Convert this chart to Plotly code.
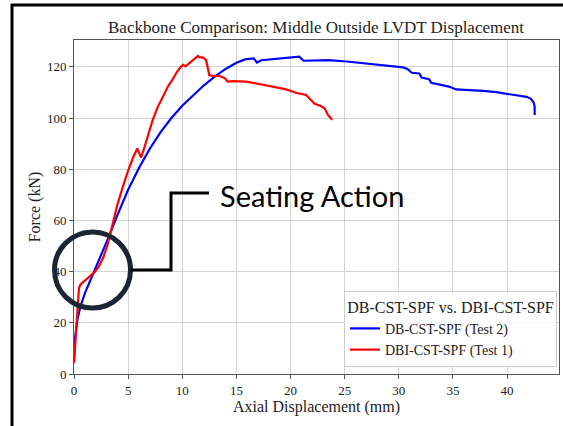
import plotly.graph_objects as go

# DB-CST-SPF (Test 2) backbone: axial displacement (mm) vs force (kN)
db_disp = [0.0, 0.1, 0.3, 0.6, 1.0, 1.5, 2.0, 2.6, 3.2, 4.0, 5.0, 6.0, 7.0, 8.0, 9.0,
           10.0, 11.0, 12.0, 13.0, 14.0, 15.0, 15.8, 16.6, 16.9, 17.3, 18.7,
           19.9, 20.8, 21.2, 22.7, 23.5, 25.2, 26.4, 28.0, 29.5, 30.4, 30.8, 31.2,
           31.9, 32.1, 32.8, 33.0, 34.0, 34.7, 35.3, 36.5, 37.8, 39.0, 40.3, 41.2,
           41.8, 42.2, 42.45, 42.55, 42.55]
db_force = [5.0, 14.0, 21.0, 26.5, 31.5, 36.5, 41.0, 47.0, 53.5, 62.0, 72.0, 80.5, 88.0,
            94.5, 100.0, 104.8, 109.0, 112.8, 116.2, 119.2, 121.6, 122.9, 123.3,
            121.7, 122.6, 123.2, 123.9, 124.0, 122.4, 122.4, 122.6, 122.1, 121.6,
            121.0, 120.3, 119.8, 119.2, 117.7, 117.4, 115.8, 115.2, 113.8, 112.9,
            112.2, 111.2, 111.0, 110.6, 110.1, 109.4, 108.9, 108.3, 107.5, 106.2,
            104.5, 101.2]

# DBI-CST-SPF (Test 1) backbone
dbi_disp = [0.0, 0.15, 0.3, 0.46, 0.6, 1.0, 1.5, 1.9, 2.3, 2.7, 3.1, 3.5, 4.0, 4.5,
            5.0, 5.5, 5.85, 6.05, 6.2, 6.5, 6.8, 7.25, 7.7, 8.2, 8.7, 9.1, 9.5, 9.9,
            10.1, 10.3, 10.8, 11.3, 11.45, 11.6, 11.9, 12.2, 12.35, 12.5, 12.8, 13.4,
            13.9, 14.2, 14.7, 15.9, 17.1, 18.4, 19.6, 20.5, 21.45, 21.9, 22.2, 22.8,
            23.15, 23.45, 23.75, 23.85]
dbi_force = [4.3, 15.0, 27.0, 33.5, 35.0, 36.5, 38.5, 39.8, 42.0, 45.5, 50.5, 57.5,
             66.0, 73.0, 79.5, 85.0, 88.1, 86.0, 84.6, 88.5, 93.0, 99.0, 104.0, 108.5,
             112.5, 115.0, 118.0, 120.2, 120.8, 120.2, 122.0, 124.0, 124.3, 123.7,
             123.7, 122.7, 120.0, 116.8, 116.5, 116.5, 115.7, 114.2, 114.4, 114.2,
             113.3, 112.2, 111.2, 109.9, 109.0, 107.0, 105.7, 104.7, 103.8, 101.2,
             99.9, 99.3]

x_ticks = [0, 5, 10, 15, 20, 25, 30, 35, 40]
y_ticks = [0, 20, 40, 60, 80, 100, 120]

W, H = 563, 426
ML, MR, MT, MB = 74, 4, 40, 52
PW, PH = W - ML - MR, H - MT - MB


def px(x):
    return (x - ML) / PW


def py(y):
    return (H - MB - y) / PH


serif = "Liberation Serif"
ink = "#222222"

fig = go.Figure()
fig.add_trace(go.Scatter(x=db_disp, y=db_force, mode="lines",
                         line=dict(color="#0000ff", width=2.2),
                         name="DB-CST-SPF (Test 2)"))
fig.add_trace(go.Scatter(x=dbi_disp, y=dbi_force, mode="lines",
                         line=dict(color="#ff0000", width=2.2),
                         name="DBI-CST-SPF (Test 1)"))

axis_common = dict(showgrid=True, gridcolor="#d4d4d4", gridwidth=1,
                   showline=True, linecolor="#555555", linewidth=1, mirror=True,
                   ticks="outside", ticklen=4, tickcolor="#555555",
                   tickfont=dict(family=serif, size=13, color=ink),
                   zeroline=False)

fig.update_layout(
    width=W, height=H,
    margin=dict(l=ML, r=MR, t=MT, b=MB),
    paper_bgcolor="white", plot_bgcolor="white",
    title=dict(text="Backbone Comparison: Middle Outside LVDT Displacement",
               xref="paper", x=px(316), xanchor="center",
               yref="container", y=1 - 27 / H, yanchor="middle",
               font=dict(family=serif, size=17, color=ink)),
    xaxis=dict(range=[0, 44.8], tickvals=x_ticks,
               title=dict(text="Axial Displacement (mm)", standoff=4,
                          font=dict(family=serif, size=16, color=ink)),
               **axis_common),
    yaxis=dict(range=[0, 130.5], tickvals=y_ticks,
               title=dict(text="Force (kN)", standoff=2,
                          font=dict(family=serif, size=16, color=ink)),
               **axis_common),
    legend=dict(title=dict(text="DB-CST-SPF vs. DBI-CST-SPF", side="top center",
                           font=dict(family=serif, size=16, color=ink)),
                font=dict(family=serif, size=14, color=ink),
                x=px(557), xanchor="right", y=py(367), yanchor="bottom",
                bgcolor="rgba(255,255,255,0.85)", bordercolor="#cccccc",
                borderwidth=1, tracegroupgap=0),
    showlegend=True,
)

# Outer frame (left and top edges)
fig.add_shape(type="line", xref="paper", yref="paper",
              x0=px(12), y0=py(H), x1=px(12), y1=py(4),
              line=dict(color="black", width=3))
fig.add_shape(type="line", xref="paper", yref="paper",
              x0=px(11), y0=py(5), x1=px(W), y1=py(5),
              line=dict(color="black", width=3))

# Seating action callout: circle and elbow connector
cx, cy, r = 92.5, 270, 38
fig.add_shape(type="circle", xref="paper", yref="paper",
              x0=px(cx - r), x1=px(cx + r), y0=py(cy + r), y1=py(cy - r),
              line=dict(color="#1c2533", width=5))
fig.add_shape(type="path", xref="paper", yref="paper",
              path=(f"M {px(cx + r)},{py(270)} L {px(171)},{py(270)} "
                    f"L {px(171)},{py(193)} L {px(209)},{py(193)}"),
              line=dict(color="black", width=3))
fig.add_annotation(text="Seating Action", xref="paper", yref="paper",
                   x=px(218), y=py(195), xanchor="left", yanchor="middle",
                   showarrow=False,
                   font=dict(family="Lato", size=29, color="black"))

fig.write_html("out.html")
